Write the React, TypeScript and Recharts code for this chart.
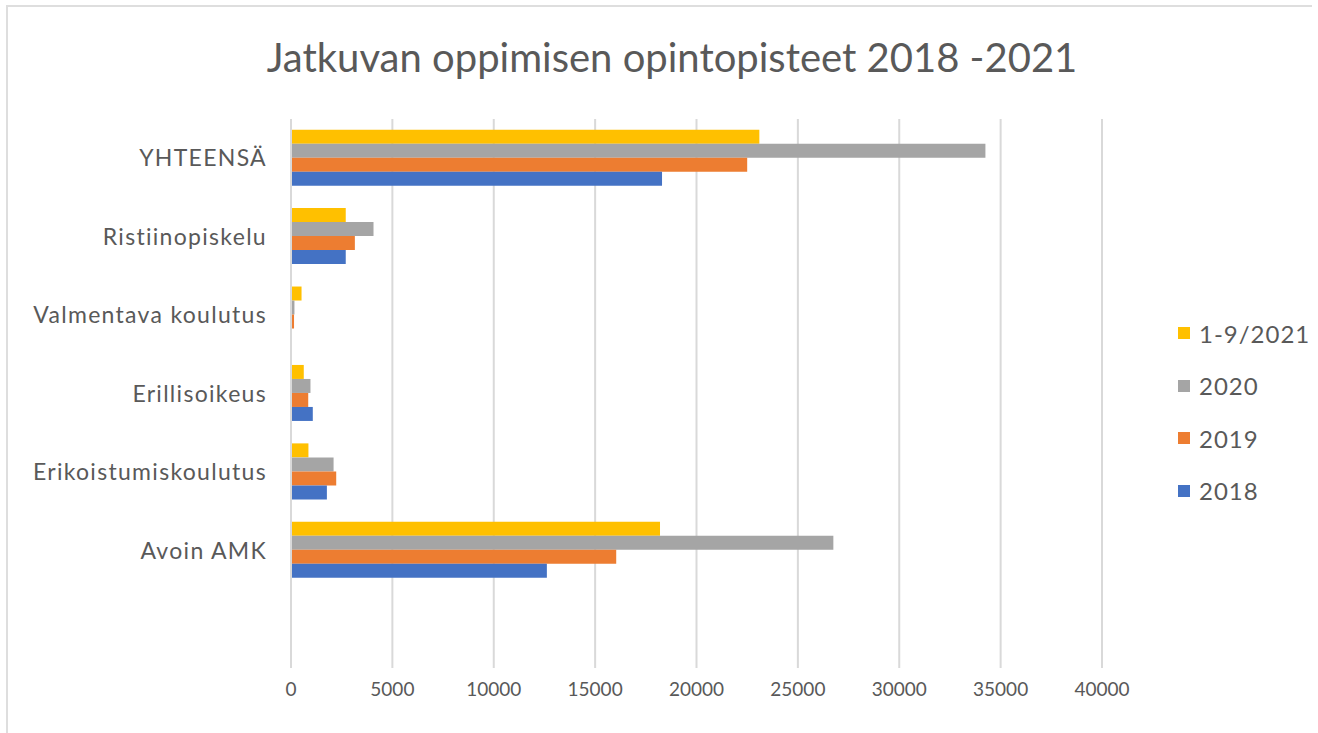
import { BarChart, Bar, XAxis, YAxis, CartesianGrid, Legend } from 'recharts'

// categories top -> bottom, last one is the empty slot Excel leaves at the bottom
const categories = ['YHTEENSÄ', 'Ristiinopiskelu', 'Valmentava koulutus', 'Erillisoikeus', 'Erikoistumiskoulutus', 'Avoin AMK', '']

const y2021 = [23100, 2700, 520, 630, 860, 18200, null]
const y2020 = [34250, 4070, 170, 960, 2100, 26750, null]
const y2019 = [22500, 3150, 150, 850, 2230, 16040, null]
const y2018 = [18300, 2700, 0, 1075, 1770, 12620, null]

const seriesNames = ['1-9/2021', '2020', '2019', '2018']
const xTicks = [0, 5000, 10000, 15000, 20000, 25000, 30000, 35000, 40000]

const data = categories.map((name, i) => ({
  name,
  y2021: y2021[i],
  y2020: y2020[i],
  y2019: y2019[i],
  y2018: y2018[i],
}))

const FONT = 'Lato, "Open Sans", sans-serif'
const TEXT = '#595959'

function LegendList({ payload }: any) {
  // keep the series order, recharts sorts the payload by value otherwise
  const items = [...(payload || [])].sort(
    (a: any, b: any) => seriesNames.indexOf(a.value) - seriesNames.indexOf(b.value)
  )
  return (
    <div style={{ fontFamily: FONT, color: TEXT, fontSize: 24, letterSpacing: 1 }}>
      {items.map((p: any) => (
        <div key={p.value} style={{ display: 'flex', alignItems: 'center', height: 52.5 }}>
          <span style={{ width: 12, height: 12, background: p.color, marginRight: 9, display: 'inline-block' }} />
          <span>{p.value}</span>
        </div>
      ))}
    </div>
  )
}

export default function App() {
  return (
    <div style={{ position: 'absolute', left: 0, top: 0, width: 1318, height: 733, background: '#fff' }}>
      <div
        style={{
          position: 'absolute',
          left: 6,
          top: 5,
          width: 1304,
          height: 728,
          borderTop: '2px solid #dedede',
          borderLeft: '2px solid #dedede',
        }}
      />
      <div
        style={{
          position: 'absolute',
          left: 0,
          top: 33,
          width: 1344,
          textAlign: 'center',
          fontFamily: FONT,
          fontSize: 40,
          color: TEXT,
        }}
      >
        Jatkuvan oppimisen opintopisteet 2018 -2021
      </div>
      <div style={{ position: 'absolute', left: 0, top: 0 }}>
        <BarChart
          width={1318}
          height={733}
          data={data}
          layout="vertical"
          margin={{ top: 119, right: 216, bottom: 35, left: 0 }}
          barCategoryGap="13.6%"
          barGap={0}
        >
          <CartesianGrid horizontal={false} stroke="#d9d9d9" strokeWidth={2} />
          <XAxis
            type="number"
            domain={[0, 40000]}
            ticks={xTicks}
            height={30}
            axisLine={false}
            tickLine={false}
            tickSize={0}
            tickMargin={15}
            tick={{ fill: TEXT, fontSize: 19, fontFamily: FONT }}
          />
          <YAxis
            type="category"
            dataKey="name"
            width={291}
            axisLine={{ stroke: '#d9d9d9', strokeWidth: 2 }}
            tickLine={false}
            tickSize={0}
            tickMargin={24}
            interval={0}
            tick={{ fill: TEXT, fontSize: 23, fontFamily: FONT, letterSpacing: 1.3 }}
          />
          <Legend
            layout="vertical"
            align="center"
            verticalAlign="middle"
            content={LegendList}
            wrapperStyle={{ left: 1178, top: 307, width: 140, height: 210 }}
          />
          <Bar dataKey="y2021" name="1-9/2021" fill="#ffc000" isAnimationActive={false} />
          <Bar dataKey="y2020" name="2020" fill="#a5a5a5" isAnimationActive={false} />
          <Bar dataKey="y2019" name="2019" fill="#ed7d31" isAnimationActive={false} />
          <Bar dataKey="y2018" name="2018" fill="#4472c4" isAnimationActive={false} />
        </BarChart>
      </div>
    </div>
  )
}
